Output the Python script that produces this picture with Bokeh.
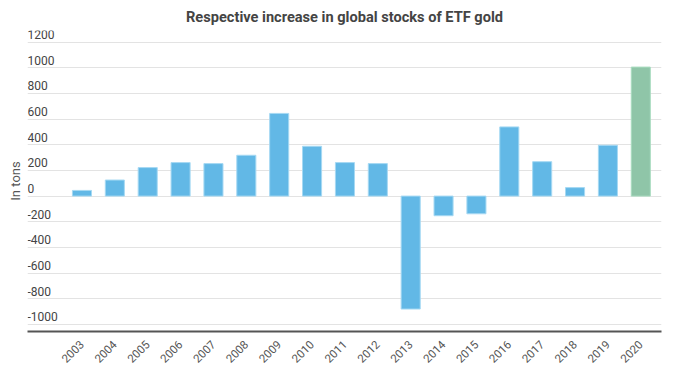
import math
from bokeh.plotting import figure
from bokeh.models import Range1d, FixedTicker, ColumnDataSource, Title
from bokeh.core.properties import value
from bokeh.embed import file_html
from bokeh.resources import INLINE

years = ["2003", "2004", "2005", "2006", "2007", "2008", "2009", "2010", "2011",
         "2012", "2013", "2014", "2015", "2016", "2017", "2018", "2019", "2020"]
increase_tons = [44, 125, 222, 261, 253, 318, 644, 388, 261,
                 253, -880, -153, -138, 539, 268, 66, 396, 1005]
y_ticks = [-1000, -800, -600, -400, -200, 0, 200, 400, 600, 800, 1000, 1200]
highlight_year = "2020"

FONT = "Roboto"
BLUE = "#62b8e6"
GREEN = "#8fc5a8"

xs = list(range(len(years)))
fills = [GREEN if y == highlight_year else BLUE for y in years]
lines = ["#a9dcc0" if y == highlight_year else "#a6d9f3" for y in years]
src = ColumnDataSource(dict(x=xs, year=years, val=increase_tons, fill=fills, line=lines))

x_start, x_end = -1.657, len(years) - 1 + 0.63
p = figure(frame_width=634, frame_height=301, output_backend="svg", toolbar_location=None,
           x_range=Range1d(x_start, x_end), y_range=Range1d(-1055, 1290),
           min_border_left=22, min_border_right=4, min_border_top=25, min_border_bottom=10)
p.outline_line_color = None
p.background_fill_color = "white"
p.border_fill_color = "white"

p.title.text = "Respective increase in global stocks of ETF gold"
p.title.align = "center"
p.title.text_font = FONT
p.title.text_font_style = "bold"
p.title.text_font_size = "14.6px"
p.title.text_color = "#444444"
p.title.offset = -8

p.add_layout(Title(text="In tons", align="center", text_font=FONT, text_font_size="13px",
                   text_font_style="normal", text_color="#555555"), "left")

p.vbar(x="x", top="val", bottom=0, width=0.58, source=src,
       fill_color="fill", line_color="line", line_width=1)

# y tick labels drawn inside plot area (above gridlines, left-aligned)
p.text(x=[x_start] * len(y_ticks), y=y_ticks, text=[str(t) for t in y_ticks],
       text_font=value(FONT), text_font_size="12px", text_color="#444444",
       text_align="left", text_baseline="bottom", y_offset=-3)

p.yaxis.visible = False
p.ygrid.ticker = FixedTicker(ticks=y_ticks)
p.ygrid.grid_line_color = "#e3e3e3"
p.ygrid.grid_line_width = 1
p.xgrid.visible = False

xa = p.xaxis[0]
xa.ticker = FixedTicker(ticks=xs)
xa.major_label_overrides = {i: y for i, y in zip(xs, years)}
xa.major_label_orientation = math.pi / 4
xa.major_tick_line_color = None
xa.minor_tick_line_color = None
xa.axis_line_color = "#555555"
xa.axis_line_width = 2
xa.major_label_text_font = FONT
xa.major_label_text_font_size = "11.5px"
xa.major_label_text_color = "#555555"
xa.major_label_standoff = 5

open("out.html", "w").write(file_html(p, INLINE))
